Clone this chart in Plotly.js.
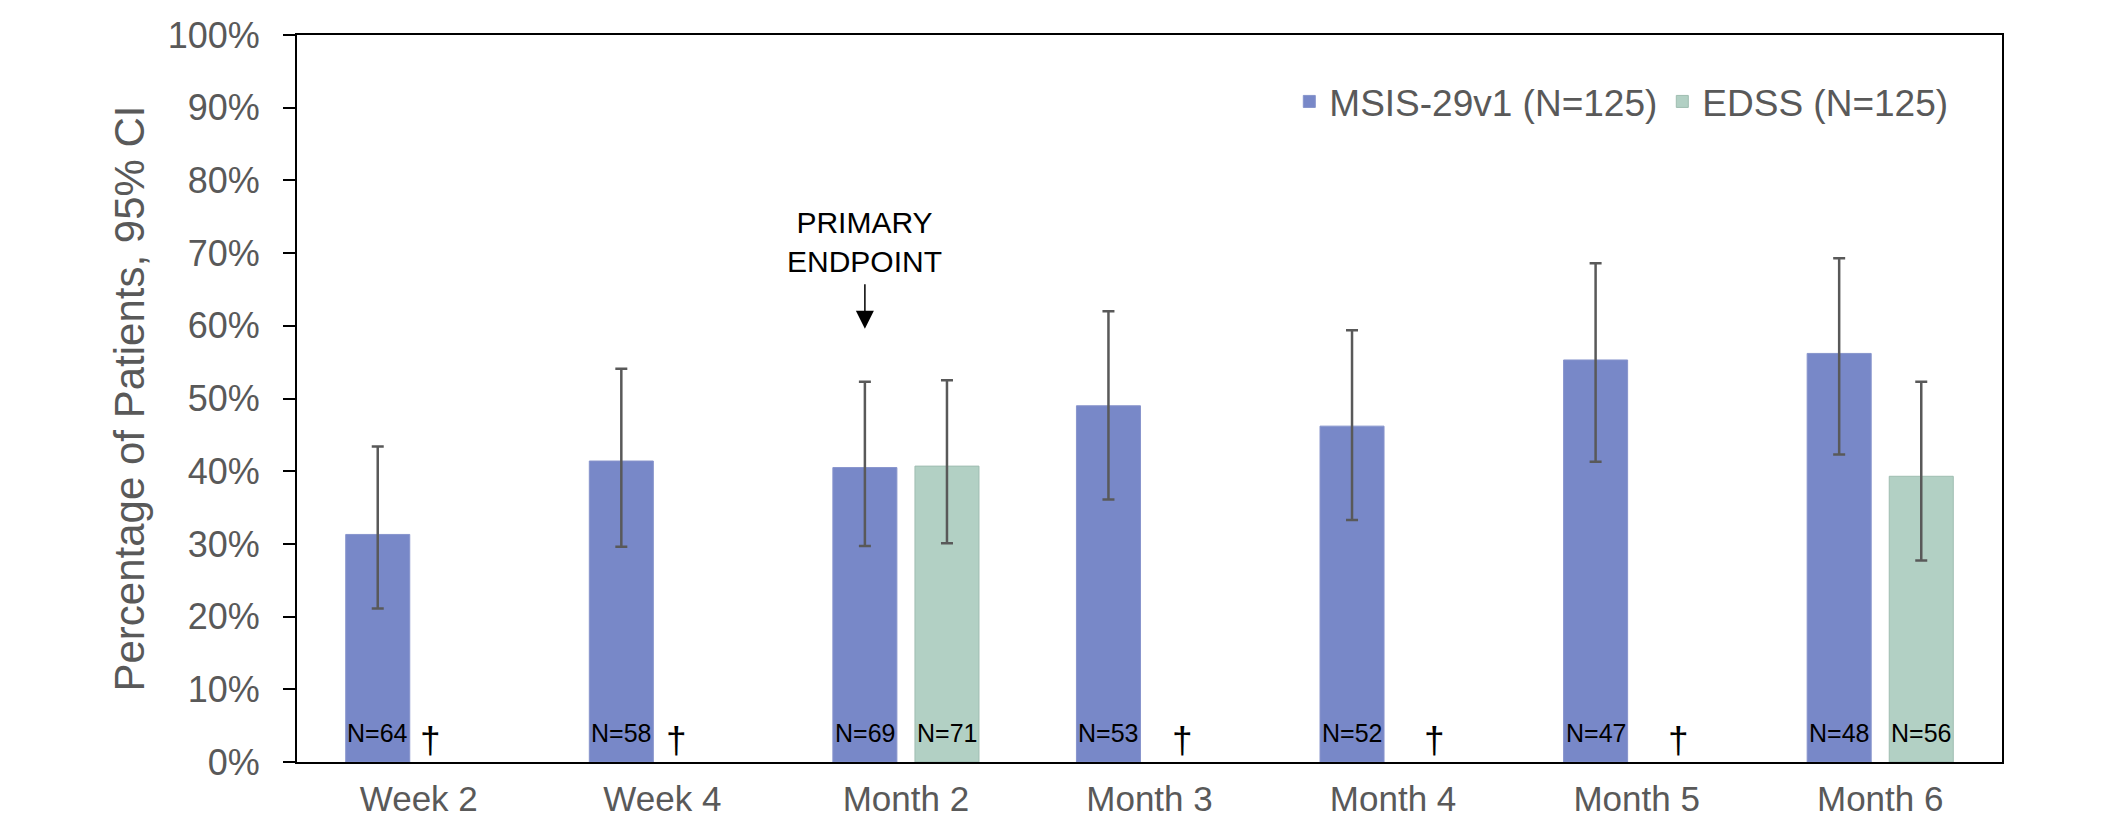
<!DOCTYPE html>
<html>
<head>
<meta charset="utf-8">
<script src="https://cdn.plot.ly/plotly-3.0.1.min.js"></script>
<style>
  html, body { margin: 0; padding: 0; background: #fff; }
  #chart { width: 2111px; height: 821px; }
</style>
</head>
<body>
<div id="chart"></div>
<script>
// Visits at which responders were assessed
const categories = ['Week 2', 'Week 4', 'Month 2', 'Month 3', 'Month 4', 'Month 5', 'Month 6'];

// MSIS-29v1 responders: percentage with 95% CI bounds, and patients assessed
const msisPct  = [31.3, 41.4, 40.5, 49.0, 46.2, 55.3, 56.2];
const msisLow  = [21.1, 29.6, 29.7, 36.1, 33.3, 41.3, 42.3];
const msisHigh = [43.4, 54.1, 52.3, 62.0, 59.4, 68.6, 69.3];
const msisN    = [64, 58, 69, 53, 52, 47, 48];

// EDSS responders (only assessed at Month 2 and Month 6)
const edssPct  = [null, null, 40.7, null, null, null, 39.3];
const edssLow  = [null, null, 30.1, null, null, null, 27.7];
const edssHigh = [null, null, 52.5, null, null, null, 52.3];
const edssN    = [null, null, 71, null, null, null, 56];

const seriesNames = ['MSIS-29v1 (N=125)', 'EDSS (N=125)'];
const primaryEndpointVisit = 'Month 2';

// ---- styling ----
const FONT = 'Arial, "Liberation Sans", sans-serif';
const GREY = '#595959';
const MSIS_COLOR = '#7888c8';
const EDSS_COLOR = '#b2d0c4';
const BARGAP = 0.326;
const GROUPGAP = 0.22;
const slotOffset = (1 - BARGAP) / 4;          // centre of each bar within its group
// horizontal nudge (px) of the dagger marking a visit without an EDSS assessment
const daggerNudge = { 'Week 2': -29, 'Week 4': -27, 'Month 3': -8, 'Month 4': 0, 'Month 5': 1 };

const plus  = (hi, v) => hi.map((h, i) => (h == null || v[i] == null) ? null : +(h - v[i]).toFixed(2));
const minus = (lo, v) => lo.map((l, i) => (l == null || v[i] == null) ? null : +(v[i] - l).toFixed(2));

const errStyle = { type: 'data', symmetric: false, color: GREY, thickness: 2.5, width: 6 };

const traces = [
  {
    type: 'bar', name: seriesNames[0], x: categories, y: msisPct,
    marker: { color: MSIS_COLOR, line: { color: '#8794cc', width: 1 } },
    error_y: Object.assign({ array: plus(msisHigh, msisPct), arrayminus: minus(msisLow, msisPct) }, errStyle),
    hoverinfo: 'x+y'
  },
  {
    type: 'bar', name: seriesNames[1], x: categories, y: edssPct,
    marker: { color: EDSS_COLOR, line: { color: '#9fbdb1', width: 1 } },
    error_y: Object.assign({ array: plus(edssHigh, edssPct), arrayminus: minus(edssLow, edssPct) }, errStyle),
    hoverinfo: 'x+y'
  }
];

const nFont = { family: FONT, size: 25, color: '#000' };
const annotations = [];
categories.forEach((c, i) => {
  annotations.push({
    x: i - slotOffset, y: 0, xref: 'x', yref: 'y', yanchor: 'middle', yshift: 29,
    text: 'N=' + msisN[i], showarrow: false, font: nFont
  });
  if (edssN[i] != null) {
    annotations.push({
      x: i + slotOffset, y: 0, xref: 'x', yref: 'y', yanchor: 'middle', yshift: 29,
      text: 'N=' + edssN[i], showarrow: false, font: nFont
    });
  } else {
    annotations.push({
      x: i + slotOffset, y: 0, xref: 'x', yref: 'y', yanchor: 'middle', yshift: 22,
      xshift: daggerNudge[c] || 0,
      text: '\u2020', showarrow: false, font: { family: FONT, size: 37, color: '#000' }
    });
  }
});

// primary endpoint callout above the MSIS bar at Month 2
const pe = categories.indexOf(primaryEndpointVisit);
const peTipY = msisHigh[pe] + 7.3;
annotations.push({
  x: pe - slotOffset, y: peTipY, xref: 'x', yref: 'y', yanchor: 'bottom', yshift: 49,
  text: 'PRIMARY<br>ENDPOINT', showarrow: false, align: 'center',
  font: { family: FONT, size: 30, color: '#000' }
});
annotations.push({
  x: pe - slotOffset, y: peTipY, xref: 'x', yref: 'y', ax: 0, ay: -46,
  text: '', showarrow: true, arrowhead: 2, arrowsize: 2.4, arrowwidth: 1.5,
  arrowcolor: '#000', standoff: 0
});

const layout = {
  width: 2111, height: 821,
  margin: { l: 297, r: 109, t: 35, b: 59 },
  paper_bgcolor: '#fff', plot_bgcolor: '#fff',
  font: { family: FONT, color: GREY, size: 36 },
  barmode: 'group', bargap: BARGAP, bargroupgap: GROUPGAP,
  showlegend: true,
  legend: {
    orientation: 'h', x: 0.582, xanchor: 'left', y: 0.908, yanchor: 'middle',
    font: { family: FONT, size: 37, color: GREY }, bgcolor: 'rgba(0,0,0,0)',
    itemclick: false, itemdoubleclick: false
  },
  xaxis: {
    type: 'category', showline: true, linecolor: '#000', linewidth: 2, mirror: true,
    ticks: '', showgrid: false, zeroline: false,
    tickfont: { family: FONT, size: 35, color: GREY }, ticklabelstandoff: 5
  },
  yaxis: {
    range: [0, 100], dtick: 10, ticksuffix: '%',
    showline: true, linecolor: '#000', linewidth: 2, mirror: true,
    ticks: 'outside', ticklen: 12, tickwidth: 2, tickcolor: '#000',
    showgrid: false, zeroline: false,
    tickfont: { family: FONT, size: 36, color: GREY }, ticklabelstandoff: 16,
    title: { text: 'Percentage of Patients, 95% CI', font: { family: FONT, size: 42, color: GREY }, standoff: 10 }
  },
  annotations: annotations
};

Plotly.newPlot('chart', traces, layout, { displayModeBar: false, staticPlot: true });
</script>
</body>
</html>
